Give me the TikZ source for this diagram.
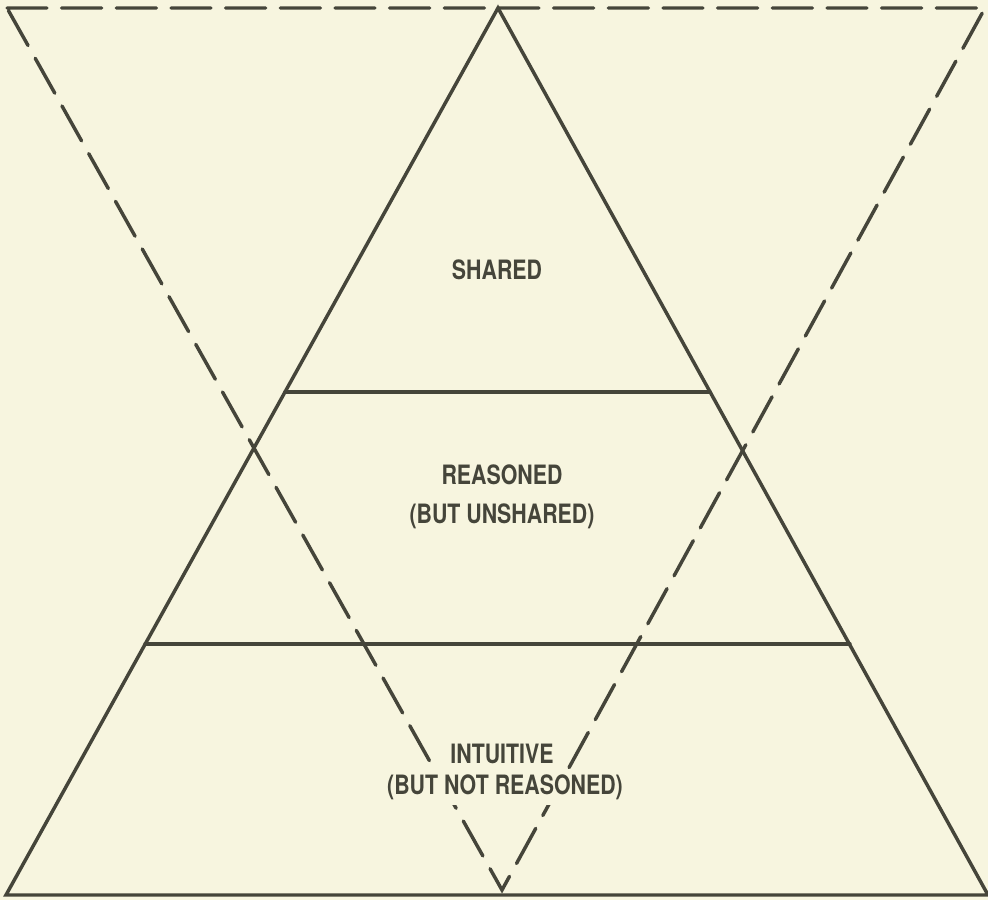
\documentclass[tikz,border=0pt]{standalone}
\usepackage{fontspec}
\newfontfamily\labelfont[FakeStretch=0.8]{TeX Gyre Heros}
\definecolor{paper}{HTML}{F7F5DF}
\definecolor{ink}{HTML}{45453A}
\begin{document}
\begin{tikzpicture}[x=0.75pt,y=-0.75pt,
  solidline/.style={draw=ink,line width=2.6pt,line join=miter,line cap=round},
  dashline/.style={draw=ink,line width=2.6pt,dash pattern=on 30pt off 11pt,line cap=round},
  lbl/.style={text=ink,font=\labelfont\bfseries\fontsize{20}{29}\selectfont,align=center,inner sep=0pt},
  masked/.style={lbl,fill=paper,inner xsep=3pt,inner ysep=4pt}]
\fill[paper] (0,0) rectangle (988,900);
\useasboundingbox (0,0) rectangle (988,900);
% solid triangle
\coordinate (A) at (498,8);
\coordinate (BL) at (6,895);
\coordinate (BR) at (988,895);
% dashed inverted triangle
\coordinate (TL) at (7,8);
\coordinate (TR) at (985,8);
\coordinate (V) at (502,890);
% divider end points
\coordinate (L1) at (285,392);
\coordinate (R1) at (710,392);
\coordinate (L2) at (145,644);
\coordinate (R2) at (850,644);
\draw[dashline] (TL) -- (TR) -- (V) -- cycle;
\draw[solidline] (A) -- (BR) -- (BL) -- cycle;
\draw[solidline] (L1) -- (R1);
\draw[solidline] (L2) -- (R2);
\node[lbl] (shared) at (497,270) {SHARED};
\node[lbl] (reasoned) at (502,497) {REASONED\\(BUT UNSHARED)};
\node[masked] (intuitive) at (502,754) {INTUITIVE};
\node[masked] (notreasoned) at (505,787) {(BUT NOT REASONED)};
\end{tikzpicture}
\end{document}
